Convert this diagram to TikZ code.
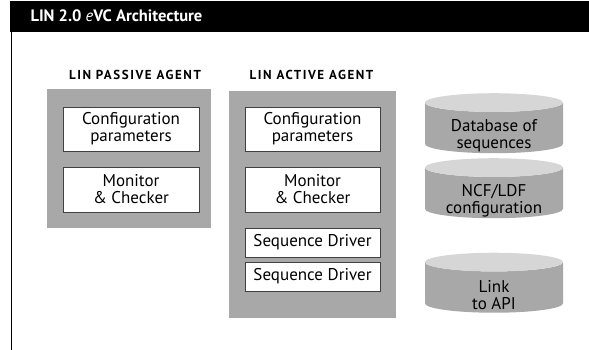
\documentclass[tikz,border=0pt]{standalone}
\usepackage{fontspec}
\setmainfont{PT Sans}
\newfontfamily\agentfont[LetterSpace=12]{PT Sans}
\usetikzlibrary{shapes.geometric}

\definecolor{agentgray}{HTML}{A8A8A8}
\definecolor{endgray}{HTML}{D6D6D6}

\begin{document}
\begin{tikzpicture}[x=1pt,y=-1pt,
        agent/.style={fill=agentgray, draw=none, inner sep=0pt},
        part/.style={draw=black!75, line width=0.6pt, fill=white, align=center,
            minimum width=136pt, inner sep=0pt,
            font=\fontsize{17}{17}\selectfont},
        store/.style={cylinder, shape border rotate=90, aspect=0.17,
            minimum width=138pt, minimum height=60pt, inner sep=0pt,
            text width=110pt, cylinder uses custom fill,
            cylinder body fill=agentgray, cylinder end fill=endgray},
        storetext/.style={align=center, yshift=-8pt, font=\fontsize{17}{17}\selectfont},
        heading/.style={font=\agentfont\bfseries\fontsize{13}{14}\selectfont}]
    \useasboundingbox (0,0) rectangle (589,350);

    % frame
    \fill[black] (10,1) rectangle (589,32);
    \draw[line width=1pt] (11,32) -- (11,350);
    \node[anchor=west, text=white, font=\bfseries\fontsize{16.5}{18}\selectfont]
        (title) at (27,16) {LIN 2.0 {\mdseries\itshape e}VC Architecture};

    % passive agent
    \node[heading] (passivehead) at (135,75) {LIN PASSIVE AGENT};
    \node[agent, minimum width=164pt, minimum height=139pt] (passive) at (129,158.5) {};
    \node[part, minimum height=44pt] (pconfig) at (131,129) {Configuration\\parameters};
    \node[part, minimum height=45pt] (pmon) at (131,189.5) {Monitor\\\& Checker};

    % active agent
    \node[heading] (activehead) at (311.5,75) {LIN ACTIVE AGENT};
    \node[agent, minimum width=167pt, minimum height=227pt] (active) at (312.5,204.5) {};
    \node[part, minimum width=135pt, minimum height=44pt] (aconfig) at (312.5,129) {Configuration\\parameters};
    \node[part, minimum width=135pt, minimum height=45pt] (amon) at (312.5,189.5) {Monitor\\\& Checker};
    \foreach \y/\n in {242.5/seqa,276.5/seqb}
        \node[part, minimum width=135pt, minimum height=29pt] (\n) at (312.5,\y) {Sequence Driver};

    % data stores
    \node[store, label={[storetext]center:Database of\\sequences}] (db) at (494,128) {};
    \node[store, label={[storetext]center:NCF/LDF\\configuration}] (ncf) at (494,193) {};
    \node[store, label={[storetext]center:Link\\to API}] (api) at (494,287.5) {};
\end{tikzpicture}
\end{document}
